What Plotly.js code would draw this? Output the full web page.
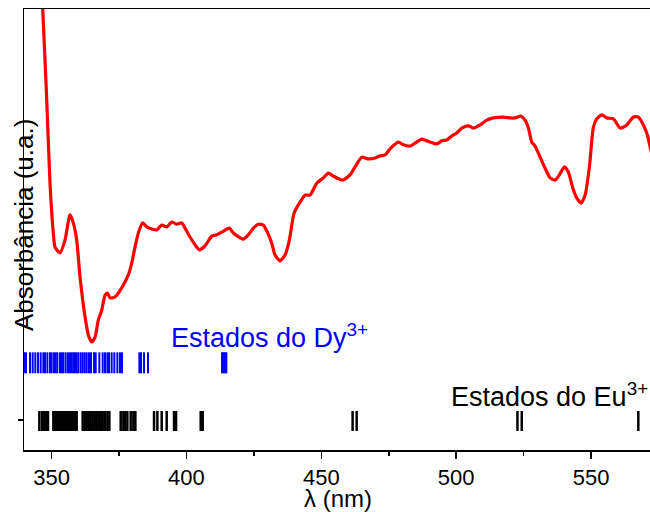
<!DOCTYPE html>
<html>
<head>
<meta charset="utf-8">
<script src="https://cdn.plot.ly/plotly-3.0.1.min.js"></script>
<style>
html,body{margin:0;padding:0;overflow:hidden;background:#fff;}
#chart{width:700px;height:512px;}
</style>
</head>
<body>
<div id="chart"></div>
<script>
// Absorption spectrum (wavelength in nm, absorbance in arbitrary units)
const wavelength = [345.92,346.74,348.22,349.44,350.67,351.30,353.15,355.00,356.86,358.08,359.34,360.57,362.42,363.64,364.90,366.13,367.35,368.61,369.84,370.69,371.69,373.54,374.76,376.62,378.47,379.73,380.95,382.18,383.81,385.29,387.15,389.00,390.85,392.71,394.56,396.41,398.27,399.49,401.34,403.83,404.79,406.91,409.39,411.24,413.10,415.91,417.40,421.10,422.96,424.81,426.66,428.52,430.00,431.63,432.86,434.71,436.56,438.16,439.90,442.12,443.98,445.83,448.31,450.76,452.61,454.47,457.95,460.66,462.51,465.00,467.44,469.93,471.78,473.63,475.49,478.57,480.42,482.90,484.76,487.24,489.09,492.80,494.65,496.51,498.36,500.21,502.07,504.52,506.37,508.85,511.33,513.78,517.49,519.97,521.82,523.94,525.53,526.76,528.02,529.24,531.10,532.95,534.80,536.66,538.25,540.10,541.59,543.22,544.70,546.30,547.78,549.37,550.85,552.11,553.97,555.82,558.27,560.75,563.23,565.68,567.53,569.39,570.87,571.87,573.7,575.6];
const absorbance = [1.088,1.000,0.794,0.605,0.492,0.460,0.447,0.476,0.533,0.515,0.476,0.392,0.302,0.261,0.245,0.256,0.295,0.317,0.351,0.356,0.345,0.347,0.356,0.374,0.397,0.424,0.460,0.492,0.515,0.506,0.501,0.499,0.510,0.506,0.517,0.512,0.515,0.503,0.483,0.460,0.454,0.463,0.485,0.488,0.494,0.503,0.492,0.478,0.488,0.503,0.512,0.510,0.494,0.469,0.442,0.429,0.442,0.476,0.537,0.562,0.578,0.578,0.605,0.617,0.628,0.621,0.612,0.624,0.642,0.664,0.660,0.662,0.667,0.669,0.683,0.698,0.692,0.689,0.696,0.705,0.701,0.694,0.701,0.703,0.712,0.719,0.730,0.735,0.730,0.737,0.748,0.753,0.755,0.753,0.753,0.757,0.748,0.730,0.698,0.689,0.664,0.639,0.617,0.612,0.624,0.642,0.630,0.594,0.571,0.560,0.578,0.642,0.732,0.751,0.760,0.753,0.751,0.730,0.737,0.755,0.755,0.737,0.714,0.687,0.646,0.612];

// Energy states (nm)
const dyStates = [340.0,340.55,342.03,343.02,344.0,345.0,345.98,346.97,347.59,348.46,349.44,350.06,350.93,351.54,352.16,353.15,353.89,354.39,355.25,356.12,356.86,357.48,358.09,358.71,359.33,359.95,360.81,361.55,362.30,363.04,363.90,364.64,365.76,366.37,367.73,368.97,369.83,370.70,371.32,372.30,373.29,374.41,375.39,376.14,382.56,383.18,384.29,385.77,413.2,413.6,414.0,414.4,414.8];
const euStates = [345.49,346.48,347.22,347.96,348.70,350.68,351.30,351.92,352.53,353.15,353.77,354.39,355.0,355.62,356.24,356.86,357.48,358.09,358.71,359.33,361.55,362.30,363.04,363.78,364.52,365.26,366.0,366.74,367.49,368.23,368.97,369.83,370.70,371.44,375.64,376.63,377.25,378.11,379.35,380.34,381.08,388.0,389.23,390.84,392.69,395.41,396.15,405.30,406.04,461.6,463.1,522.7,524.3,567.5];

const xTicks = [350,400,450,500,550];
const dyLabel = 'Estados do Dy<sup>3+</sup>';
const euLabel = 'Estados do Eu<sup>3+</sup>';
const yTitle = 'Absorbância (u.a.)';
const xTitle = 'λ (nm)';

// state levels (y band) for the marker rows
const dyBand = [0.174, 0.2215];
const euBand = [0.0431, 0.0884];

function stickTrace(states, band, color, w) {
  const xs = [], ys = [];
  states.forEach(s => { xs.push(s, s, null); ys.push(band[0], band[1], null); });
  return {x: xs, y: ys, type: 'scatter', mode: 'lines',
          line: {color: color, width: w}, hoverinfo: 'skip', showlegend: false};
}

const font = 'Liberation Sans, Arial, Helvetica, sans-serif';

const data = [
  stickTrace(dyStates, dyBand, '#0000FF', 2),
  stickTrace(euStates, euBand, '#000000', 2.5),
  {x: wavelength, y: absorbance, type: 'scatter', mode: 'lines',
   line: {color: '#FF0000', width: 3.2, shape: 'spline', smoothing: 0.6}, showlegend: false}
];

const layout = {
  width: 700, height: 512,
  margin: {l: 24, r: 49, t: 9, b: 62},
  paper_bgcolor: '#fff', plot_bgcolor: '#fff',
  showlegend: false,
  xaxis: {
    range: [339.8, 572.2], tickvals: xTicks, ticktext: xTicks.map(String),
    ticks: 'outside', ticklen: 7, tickwidth: 1.5, tickcolor: '#000',
    minor: {tickvals: [375,425,475,525], ticks: 'outside', ticklen: 4, tickwidth: 1.5, tickcolor: '#000'},
    showline: true, linecolor: '#000', linewidth: 1.5, mirror: true,
    showgrid: false, zeroline: false,
    tickfont: {family: font, size: 22, color: '#000'}
  },
  yaxis: {
    range: [0, 1], tickvals: [0.068], ticktext: [''],
    ticks: 'outside', ticklen: 5, tickwidth: 1.5, tickcolor: '#000',
    showline: true, linecolor: '#000', linewidth: 1.5, mirror: true,
    showgrid: false, zeroline: false, showticklabels: false
  },
  annotations: [
    {text: dyLabel, x: 394.56, y: 0.2585, xref: 'x', yref: 'y', xanchor: 'left', yanchor: 'middle',
     xshift: -3, showarrow: false, font: {family: font, size: 27, color: '#0000FF'}},
    {text: euLabel, x: 498.36, y: 0.1236, xref: 'x', yref: 'y', xanchor: 'left', yanchor: 'middle',
     xshift: -3, showarrow: false, font: {family: font, size: 27, color: '#000'}},
    {text: yTitle, x: 0, y: 0.51, xref: 'paper', yref: 'paper', xanchor: 'center', yanchor: 'middle',
     textangle: -90, showarrow: false, font: {family: font, size: 26, color: '#000'}},
    {text: xTitle, x: 0.5, y: -0.109, xref: 'paper', yref: 'paper', xanchor: 'center', yanchor: 'middle',
     showarrow: false, font: {family: font, size: 24, color: '#000'}}
  ]
};

Plotly.newPlot('chart', data, layout, {displayModeBar: false, staticPlot: true});
</script>
</body>
</html>
